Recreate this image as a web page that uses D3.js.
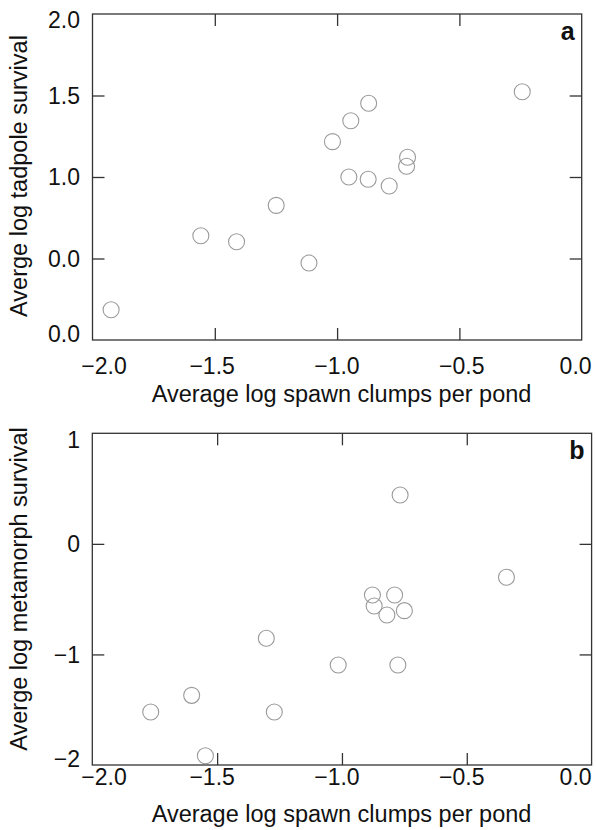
<!DOCTYPE html>
<html>
<head>
<meta charset="utf-8">
<script src="https://cdn.jsdelivr.net/npm/d3@7"></script>
<style>
  html, body { margin: 0; padding: 0; background: #fff; }
  svg { display: block; }
  text { font-family: "Liberation Sans", Arial, Helvetica, sans-serif; fill: #111; }
</style>
</head>
<body>
<svg id="chart" width="596" height="830"></svg>
<script>
// ---------- data ----------
const xTickValues = [-2.0, -1.5, -1.0, -0.5, 0.0];
const xTickLabels = ["\u22122.0", "\u22121.5", "\u22121.0", "\u22120.5", "0.0"];

// Panel a (tadpole survival)
const spawnA = [-0.243, -0.871, -0.944, -1.019, -0.712, -0.716, -0.952, -0.873, -0.787, -1.249, -1.557, -1.411, -1.115, -1.924];
const tadpoleA = [1.523, 1.452, 1.345, 1.217, 1.121, 1.066, 1.000, 0.986, 0.945, 0.826, 0.640, 0.603, 0.472, 0.186];
const yTickValuesA = [0, 0.5, 1.0, 1.5, 2.0];
const yTickLabelsA = ["0.0", "0.0", "1.0", "1.5", "2.0"];

// Panel b (metamorph survival)
const spawnB = [-0.767, -0.341, -0.878, -0.789, -0.871, -0.750, -0.820, -1.303, -1.015, -0.776, -1.602, -1.766, -1.271, -1.547];
const metamorphB = [0.442, -0.302, -0.462, -0.462, -0.562, -0.604, -0.643, -0.854, -1.095, -1.095, -1.370, -1.521, -1.521, -1.916];
const yTickValuesB = [-2, -1, 0, 1];
const yTickLabelsB = ["\u22122", "\u22121", "0", "1"];

const xTitle = "Average log spawn clumps per pond";
const yTitleA = "Averge log tadpole survival";
const yTitleB = "Averge log metamorph survival";

// ---------- layout ----------
const svg = d3.select("#chart");
const axisColor = "#333";
const pointColor = "#9a9a9a";
const fs = 23;

const panels = [
  { x: d3.scaleLinear().domain([-2, 0]).range([92.5, 581.7]),
    y: d3.scaleLinear().domain([0, 2]).range([340, 14]),
    xs: spawnA, ys: tadpoleA, yTicks: yTickValuesA, yLabels: yTickLabelsA,
    yTitle: yTitleA, yTitleCenter: 176, letter: "a",
    xLabelBaseline: 373.5, xTitleBaseline: 401.5 },
  { x: d3.scaleLinear().domain([-2, 0]).range([92.3, 591.6]),
    y: d3.scaleLinear().domain([-2, 1]).range([765, 433.3]),
    xs: spawnB, ys: metamorphB, yTicks: yTickValuesB, yLabels: yTickLabelsB,
    yTitle: yTitleB, yTitleCenter: 589, letter: "b",
    xLabelBaseline: 785, xTitleBaseline: 822 }
];
const labelX = panels[1].x; // tick labels share the same horizontal placement

panels.forEach(p => {
  const [x0, x1] = p.x.range();
  const [y1, y0] = p.y.range();
  const g = svg.append("g");

  // frame
  g.append("rect")
    .attr("x", x0).attr("y", y0)
    .attr("width", x1 - x0).attr("height", y1 - y0)
    .attr("fill", "none").attr("stroke", axisColor).attr("stroke-width", 1.3);

  const innerX = xTickValues.slice(1, -1);
  const yVals = p.yTicks.slice().sort((a, b) => a - b);
  const innerY = yVals.slice(1, -1);

  const styleAxis = sel => {
    sel.select(".domain").remove();
    sel.selectAll("line").attr("stroke", axisColor).attr("stroke-width", 1.3);
  };
  // inward ticks on all four sides
  g.append("g").attr("transform", `translate(0,${y1})`)
    .call(d3.axisBottom(p.x).tickValues(innerX).tickSize(-12).tickFormat(""))
    .call(styleAxis);
  g.append("g").attr("transform", `translate(0,${y0})`)
    .call(d3.axisTop(p.x).tickValues(innerX).tickSize(-12).tickFormat(""))
    .call(styleAxis);
  g.append("g").attr("transform", `translate(${x0},0)`)
    .call(d3.axisLeft(p.y).tickValues(innerY).tickSize(-12).tickFormat(""))
    .call(styleAxis);
  g.append("g").attr("transform", `translate(${x1},0)`)
    .call(d3.axisRight(p.y).tickValues(innerY).tickSize(-12).tickFormat(""))
    .call(styleAxis);

  // x tick labels
  const nX = xTickValues.length;
  g.selectAll(".xl").data(xTickValues).enter().append("text")
    .attr("x", (d, i) => i === 0 ? labelX(d) - 11 : (i === nX - 1 ? labelX(d) : labelX(d) - 5))
    .attr("y", p.xLabelBaseline)
    .attr("text-anchor", (d, i) => i === 0 ? "start" : (i === nX - 1 ? "end" : "middle"))
    .attr("font-size", fs)
    .text((d, i) => xTickLabels[i]);

  // y tick labels
  g.selectAll(".yl").data(p.yTicks).enter().append("text")
    .attr("x", 80)
    .attr("y", d => Math.max(y0 + 6, Math.min(y1 - 6, p.y(d))))
    .attr("dy", "0.36em")
    .attr("text-anchor", "end")
    .attr("font-size", fs)
    .text((d, i) => p.yLabels[i]);

  // x title
  g.append("text")
    .attr("x", 341.5).attr("y", p.xTitleBaseline)
    .attr("text-anchor", "middle").attr("font-size", fs + 0.5)
    .text(xTitle);

  // y title
  g.append("text")
    .attr("transform", `translate(27,${p.yTitleCenter}) rotate(-90)`)
    .attr("text-anchor", "middle").attr("font-size", fs + 0.5)
    .text(p.yTitle);

  // panel letter
  g.append("text")
    .attr("x", x1 - 7).attr("y", y0 + 25.5)
    .attr("text-anchor", "end").attr("font-size", 25).attr("font-weight", "bold")
    .text(p.letter);

  // points
  g.selectAll("circle").data(p.xs.map((v, i) => [v, p.ys[i]])).enter().append("circle")
    .attr("cx", d => p.x(d[0]))
    .attr("cy", d => p.y(d[1]))
    .attr("r", 8)
    .attr("fill", "none")
    .attr("stroke", pointColor)
    .attr("stroke-width", 1.1);
});
</script>
</body>
</html>
